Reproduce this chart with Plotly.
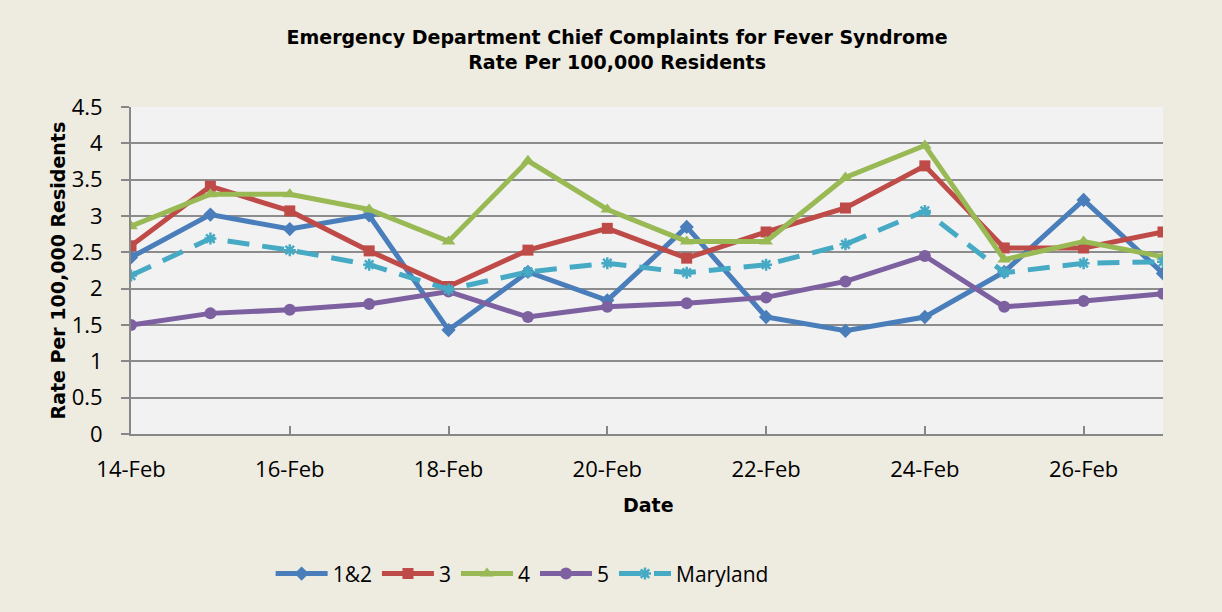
import plotly.graph_objects as go

dates = ["2013-02-%02d" % d for d in range(14, 28)]
s12 = [2.43, 3.02, 2.82, 3.01, 1.43, 2.23, 1.84, 2.85, 1.61, 1.42, 1.61, 2.23, 3.22, 2.21]
s3 = [2.59, 3.41, 3.07, 2.52, 2.03, 2.53, 2.83, 2.42, 2.78, 3.11, 3.69, 2.56, 2.56, 2.78]
s4 = [2.86, 3.30, 3.30, 3.09, 2.65, 3.76, 3.09, 2.65, 2.65, 3.53, 3.97, 2.40, 2.65, 2.44]
s5 = [1.50, 1.66, 1.71, 1.79, 1.96, 1.61, 1.75, 1.80, 1.88, 2.10, 2.45, 1.75, 1.83, 1.93]
maryland = [2.18, 2.69, 2.53, 2.33, 1.99, 2.23, 2.35, 2.22, 2.33, 2.61, 3.07, 2.22, 2.35, 2.37]

series = [
    ("1&2", s12, "#4A7EBB", "diamond", 11, "solid"),
    ("3", s3, "#BE4B48", "square", 11, "solid"),
    ("4", s4, "#98B954", "triangle-up", 12, "solid"),
    ("5", s5, "#7D60A0", "circle", 12, "solid"),
    ("Maryland", maryland, "#46AAC5", "asterisk-open", 10, "22px,13px"),
]

fig = go.Figure()
for name, vals, color, sym, size, dash in series:
    fig.add_trace(go.Scatter(
        x=dates, y=vals, name=name, mode="lines+markers",
        line=dict(color=color, width=5, dash=dash),
        marker=dict(symbol=sym, size=size, color=color,
                    line=dict(color=color, width=2.5 if sym == "asterisk-open" else 0)),
    ))

fig.update_layout(
    width=1222, height=612,
    paper_bgcolor="#EEEBE0", plot_bgcolor="#F2F2F2",
    margin=dict(l=131, r=59, t=107, b=178),
    title=dict(
        text="Emergency Department Chief Complaints for Fever Syndrome<br>Rate Per 100,000 Residents",
        x=0.505, xanchor="center", y=1 - 44 / 612, yanchor="top", yref="container",
        font=dict(family="DejaVu Sans", size=19, color="#000000", weight="bold"),
    ),
    legend=dict(
        orientation="h", x=0.379, xanchor="center", y=-0.428, yanchor="middle",
        font=dict(family="Open Sans", size=21, color="#000000"),
        bgcolor="rgba(0,0,0,0)", traceorder="normal", itemwidth=52,
    ),
    showlegend=True,
    annotations=[
        dict(text="<b>Rate Per 100,000 Residents</b>", xref="paper", yref="paper",
             x=-(131 - 57) / 1032, y=0.5, xanchor="center", yanchor="middle",
             textangle=-90, showarrow=False,
             font=dict(family="DejaVu Sans", size=19, color="#000000")),
        dict(text="<b>Date</b>", xref="paper", yref="paper",
             x=(648 - 131) / 1032, y=-(505 - 434) / 327, xanchor="center", yanchor="middle",
             showarrow=False,
             font=dict(family="DejaVu Sans", size=19, color="#000000")),
    ],
)

fig.update_xaxes(
    type="date", range=["2013-02-14", "2013-02-27"],
    dtick=2 * 86400000, tick0="2013-02-14", tickformat="%d-%b",
    ticks="inside", ticklen=8, tickwidth=2, tickcolor="#878787",
    showline=True, linecolor="#878787", linewidth=2, showgrid=False,
    tickfont=dict(family="Open Sans", size=22, color="#000000"),
    ticklabelstandoff=15, automargin=False, zeroline=False,
)
fig.update_yaxes(
    range=[0, 4.5], dtick=0.5, tickformat="~g",
    ticks="outside", ticklen=8, tickwidth=2, tickcolor="#878787",
    showline=True, linecolor="#878787", linewidth=2,
    showgrid=True, gridcolor="#8C8C8C", gridwidth=2,
    tickfont=dict(family="Open Sans", size=22, color="#000000"),
    ticklabelstandoff=14, automargin=False, zeroline=False,
)

fig.write_html("out.html", config={"displayModeBar": False},
               post_script="document.body.style.margin='0';")
